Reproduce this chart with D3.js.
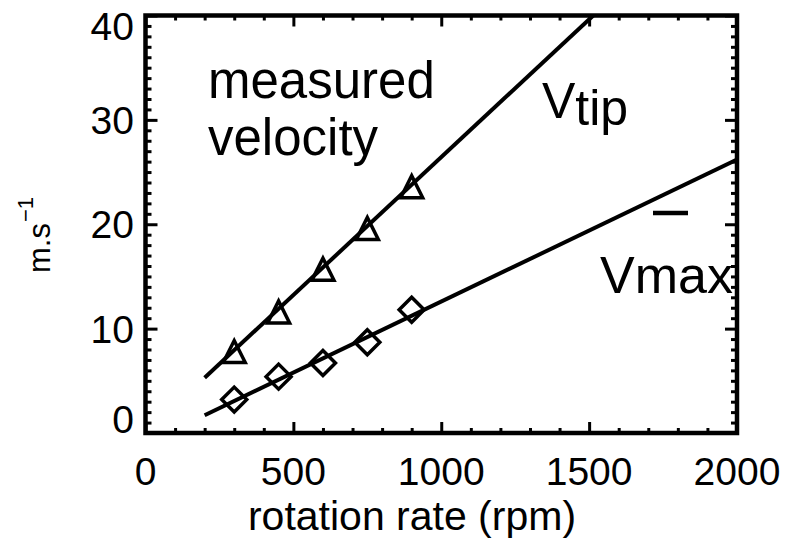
<!DOCTYPE html>
<html>
<head>
<meta charset="utf-8">
<script src="https://cdn.jsdelivr.net/npm/d3@7"></script>
<style>
  html, body { margin: 0; padding: 0; background: #fff; }
  svg text { font-family: "Liberation Sans", Arial, Helvetica, sans-serif; fill: #000; }
</style>
</head>
<body>
<svg id="chart" width="786" height="539"></svg>
<script>
// Rotation rates (rpm) at which velocities were measured
const rpm = [300, 450, 600, 750, 900];
// Measured tip velocity (triangles) and maximum mean velocity (diamonds), m/s
const tipMeasured = [7.8, 11.6, 15.7, 19.6, 23.6];
const maxMeasured = [3.2, 5.4, 6.7, 8.7, 11.8];
// Fitted straight lines: [rpm, m/s] end points
const tipFit = [[200, 5.3], [1514, 40]];
const maxFit = [[200, 1.7], [2000, 26.2]];
// Axis ticks
const xTicks = [0, 500, 1000, 1500, 2000];
const yTicks = [0, 10, 20, 30, 40];

const svg = d3.select("#chart");
const plotLeft = 145.5, plotRight = 737, plotTop = 15.5, plotBottom = 433;

const x = d3.scaleLinear().domain([0, 2000]).range([plotLeft, plotRight]);
const y = d3.scaleLinear().domain([0, 40]).range([plotBottom, plotTop]);

const xMinor = d3.range(0, 2001, 100).filter(v => v % 500 !== 0);
const yMinor = d3.range(0, 41, 1).filter(v => v % 10 !== 0);

function styleAxis(g, w) {
  g.select(".domain").remove();
  g.selectAll(".tick line").attr("stroke", "#000").attr("stroke-width", w);
  g.selectAll(".tick text").remove();
}

// Inward ticks on all four sides
svg.append("g").attr("transform", `translate(0,${plotBottom})`)
  .call(d3.axisBottom(x).tickValues(xTicks).tickSize(-11)).call(g => styleAxis(g, 3));
svg.append("g").attr("transform", `translate(0,${plotBottom})`)
  .call(d3.axisBottom(x).tickValues(xMinor).tickSize(-5)).call(g => styleAxis(g, 3));
svg.append("g").attr("transform", `translate(0,${plotTop})`)
  .call(d3.axisTop(x).tickValues(xTicks).tickSize(-11)).call(g => styleAxis(g, 3));
svg.append("g").attr("transform", `translate(0,${plotTop})`)
  .call(d3.axisTop(x).tickValues(xMinor).tickSize(-5)).call(g => styleAxis(g, 3));
svg.append("g").attr("transform", `translate(${plotLeft},0)`)
  .call(d3.axisLeft(y).tickValues(yTicks).tickSize(-12)).call(g => styleAxis(g, 3));
svg.append("g").attr("transform", `translate(${plotLeft},0)`)
  .call(d3.axisLeft(y).tickValues(yMinor).tickSize(-6)).call(g => styleAxis(g, 3));
svg.append("g").attr("transform", `translate(${plotRight},0)`)
  .call(d3.axisRight(y).tickValues(yTicks).tickSize(-12)).call(g => styleAxis(g, 3));
svg.append("g").attr("transform", `translate(${plotRight},0)`)
  .call(d3.axisRight(y).tickValues(yMinor).tickSize(-6)).call(g => styleAxis(g, 3));

// Frame
svg.append("rect")
  .attr("x", plotLeft).attr("y", plotTop)
  .attr("width", plotRight - plotLeft).attr("height", plotBottom - plotTop)
  .attr("fill", "none").attr("stroke", "#000").attr("stroke-width", 4.5);

// Tick labels
svg.append("g").selectAll("text").data(xTicks).join("text")
  .attr("x", d => x(d)).attr("y", 485)
  .attr("text-anchor", "middle").attr("font-size", 39)
  .text(d => d);
svg.append("g").selectAll("text").data(yTicks).join("text")
  .attr("x", 134)
  .attr("y", d => Math.min(Math.max(y(d) + 14, 40), 433))
  .attr("text-anchor", "end").attr("font-size", 39)
  .text(d => d);

// Axis titles
svg.append("text")
  .attr("x", 412).attr("y", 530)
  .attr("text-anchor", "middle").attr("font-size", 41)
  .text("rotation rate (rpm)");
const yt = svg.append("text")
  .attr("transform", "translate(50,273) rotate(-90)")
  .attr("font-size", 31);
yt.append("tspan").text("m.s");
yt.append("tspan").attr("font-size", 22).attr("dy", -17).attr("dx", 1).text("\u22121");

// Clip for the fitted lines
svg.append("clipPath").attr("id", "plotClip")
  .append("rect").attr("x", plotLeft).attr("y", plotTop)
  .attr("width", plotRight - plotLeft).attr("height", plotBottom - plotTop);

const line = d3.line().x(d => x(d[0])).y(d => y(d[1]));
[tipFit, maxFit].forEach(seg => {
  svg.append("path").datum(seg)
    .attr("d", line)
    .attr("clip-path", "url(#plotClip)")
    .attr("fill", "none").attr("stroke", "#000").attr("stroke-width", 4);
});

// Markers
const tri = 11, dia = 12.5;
svg.append("g").selectAll("path").data(rpm.map((r, i) => [r, tipMeasured[i]])).join("path")
  .attr("d", d => {
    const cx = x(d[0]), cy = y(d[1]);
    return `M${cx - tri},${cy + tri}L${cx},${cy - tri}L${cx + tri},${cy + tri}Z`;
  })
  .attr("fill", "none").attr("stroke", "#000").attr("stroke-width", 3.5).attr("stroke-linejoin", "miter");
svg.append("g").selectAll("path").data(rpm.map((r, i) => [r, maxMeasured[i]])).join("path")
  .attr("d", d => {
    const cx = x(d[0]), cy = y(d[1]);
    return `M${cx - dia},${cy}L${cx},${cy - dia}L${cx + dia},${cy}L${cx},${cy + dia}Z`;
  })
  .attr("fill", "none").attr("stroke", "#000").attr("stroke-width", 3.5);

// Annotations
svg.append("text").attr("x", 208).attr("y", 98).attr("font-size", 51).text("measured");
svg.append("text").attr("x", 208).attr("y", 155).attr("font-size", 51).text("velocity");
const vt = svg.append("text").attr("x", 542).attr("y", 118).attr("font-size", 50);
vt.append("tspan").text("V");
vt.append("tspan").attr("dy", 7).text("tip");
svg.append("text").attr("x", 600).attr("y", 293).attr("font-size", 52).text("Vmax");
svg.append("line")
  .attr("x1", 653).attr("x2", 688).attr("y1", 213).attr("y2", 213)
  .attr("stroke", "#000").attr("stroke-width", 4.5);
</script>
</body>
</html>
